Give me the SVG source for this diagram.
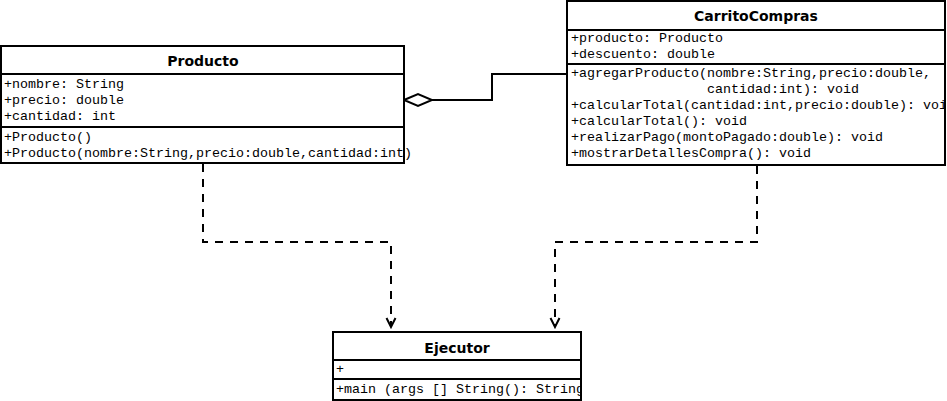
<svg xmlns="http://www.w3.org/2000/svg" width="947" height="401" viewBox="0 0 947 401">
<style>
.box{fill:#fff;stroke:#000;stroke-width:2}
.div{stroke:#000;stroke-width:2}
.title{font-family:"DejaVu Sans",Verdana,sans-serif;font-weight:bold;font-size:14px;text-anchor:middle;fill:#000}
.mono{font-family:"Liberation Mono","Courier New",monospace;font-size:13.33px;fill:#000;white-space:pre}
.conn{fill:none;stroke:#000;stroke-width:2}
.dash{stroke-dasharray:8 7}
</style>
<defs>
<marker id="open" markerWidth="12" markerHeight="14" refX="10" refY="7" orient="auto" markerUnits="userSpaceOnUse">
<path d="M1,2.5 L10,7 L1,11.5" fill="none" stroke="#000" stroke-width="2"/>
</marker>
<clipPath id="clipC"><rect x="567" y="1" width="378" height="164"/></clipPath>
<clipPath id="clipE"><rect x="333" y="332" width="248" height="68"/></clipPath>
</defs>
<g id="connectors">
<path class="conn" d="M432,100 H492 V74 H567"/>
<path d="M404,100 L418,94 L432,100 L418,106 Z" fill="#fff" stroke="#000" stroke-width="2"/>
<path class="conn dash" d="M203,164 V242 H391 V327" marker-end="url(#open)"/>
<path class="conn dash" d="M757,166 V242 H555 V327" marker-end="url(#open)"/>
</g>
<g id="Producto">
<rect class="box" x="1" y="46" width="403" height="117"/>
<line class="div" x1="1" y1="74" x2="404" y2="74"/>
<line class="div" x1="1" y1="127" x2="404" y2="127"/>
<text class="title" x="203" y="66">Producto</text>
<text class="mono" x="4" y="88">+nombre: String</text>
<text class="mono" x="4" y="104">+precio: double</text>
<text class="mono" x="4" y="120">+cantidad: int</text>
<text class="mono" x="4" y="141">+Producto()</text>
<text class="mono" x="4" y="157">+Producto(nombre:String,precio:double,cantidad:int)</text>
</g>
<g id="CarritoCompras">
<rect class="box" x="567" y="1" width="378" height="164"/>
<line class="div" x1="567" y1="30" x2="945" y2="30"/>
<line class="div" x1="567" y1="64" x2="945" y2="64"/>
<text class="title" x="756" y="21">CarritoCompras</text>
<g clip-path="url(#clipC)">
<text class="mono" x="571" y="42">+producto: Producto</text>
<text class="mono" x="571" y="58">+descuento: double</text>
<text class="mono" x="571" y="77">+agregarProducto(nombre:String,precio:double,</text>
<text class="mono" x="707" y="93">cantidad:int): void</text>
<text class="mono" x="571" y="109">+calcularTotal(cantidad:int,precio:double): void</text>
<text class="mono" x="571" y="125">+calcularTotal(): void</text>
<text class="mono" x="571" y="141">+realizarPago(montoPagado:double): void</text>
<text class="mono" x="571" y="157">+mostrarDetallesCompra(): void</text>
</g>
</g>
<g id="Ejecutor">
<rect class="box" x="333" y="332" width="248" height="68"/>
<line class="div" x1="333" y1="360" x2="581" y2="360"/>
<line class="div" x1="333" y1="379" x2="581" y2="379"/>
<text class="title" x="457" y="353">Ejecutor</text>
<g clip-path="url(#clipE)">
<text class="mono" x="336" y="373">+</text>
<text class="mono" x="336" y="393">+main (args [] String(): String</text>
</g>
</g>
</svg>
